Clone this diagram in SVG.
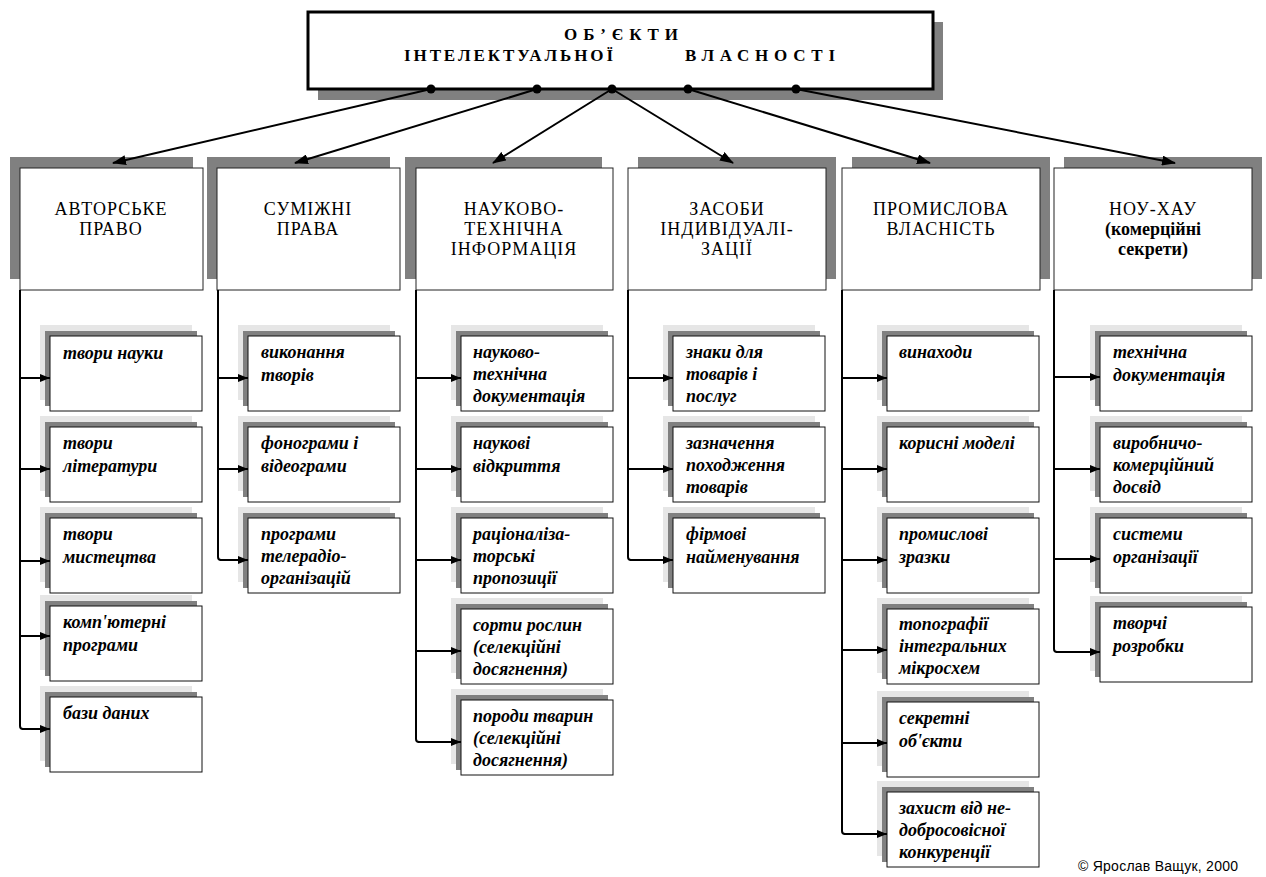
<svg xmlns="http://www.w3.org/2000/svg" width="1266" height="877" viewBox="0 0 1266 877">
<style>
.title{font-family:'Liberation Serif','Tinos','Times New Roman','DejaVu Serif',serif;font-weight:bold;font-size:17px;fill:#000}
.cat{font-family:'Liberation Serif','Tinos','Times New Roman','DejaVu Serif',serif;font-size:18px;letter-spacing:1px;fill:#000;text-anchor:middle}
.catb{font-weight:bold;letter-spacing:0}
.ch{font-family:'Liberation Serif','Tinos','Times New Roman','DejaVu Serif',serif;font-size:18px;font-weight:bold;font-style:italic;fill:#000}
.catbox{fill:#fff;stroke:#222;stroke-width:1}
.catsh{fill:#808080}
.chbox{fill:#fff;stroke:#111;stroke-width:1}
.sh1{fill:#e6e6e6}
.sh2{fill:#808080}
.ln{stroke:#000;stroke-width:2;fill:none}
.copy{font-family:'Liberation Sans',Arial,sans-serif;font-size:14px;fill:#000}
</style>
<defs>
<marker id="ah" markerUnits="userSpaceOnUse" markerWidth="14" markerHeight="10" refX="13" refY="5" orient="auto"><path d="M0,0 L14,5 L0,10 z" fill="#000"/></marker>
<marker id="as" markerUnits="userSpaceOnUse" markerWidth="10" markerHeight="8" refX="10" refY="4" orient="auto"><path d="M0,0 L10,4 L0,8 z" fill="#000"/></marker>
</defs>
<rect width="1266" height="877" fill="#fff"/>

<g id="title">
<rect x="318" y="22" width="625" height="78" fill="#808080"/>
<rect x="308" y="12" width="625" height="77" fill="#fff" stroke="#000" stroke-width="3"/>
<text class="title" x="564" y="40" textLength="114" lengthAdjust="spacing">ОБ’ЄКТИ</text>
<text class="title" x="404" y="61" textLength="209" lengthAdjust="spacing">ІНТЕЛЕКТУАЛЬНОЇ</text>
<text class="title" x="685" y="61" textLength="150" lengthAdjust="spacing">ВЛАСНОСТІ</text>
</g>

<!-- Categories -->
<g id="cat1">
<rect class="catsh" x="10" y="157" width="183" height="122"/>
<rect class="catbox" x="20" y="168" width="183" height="122"/>
<text class="cat" x="111" y="215">АВТОРСЬКЕ</text>
<text class="cat" x="111" y="235">ПРАВО</text>
</g>
<g id="cat2">
<rect class="catsh" x="207" y="157" width="183" height="122"/>
<rect class="catbox" x="217" y="168" width="183" height="122"/>
<text class="cat" x="308" y="215">СУМІЖНІ</text>
<text class="cat" x="308" y="235">ПРАВА</text>
</g>
<g id="cat3">
<rect class="catsh" x="405" y="157" width="197" height="122"/>
<rect class="catbox" x="416" y="168" width="197" height="122"/>
<text class="cat" x="514" y="215">НАУКОВО-</text>
<text class="cat" x="514" y="235">ТЕХНІЧНА</text>
<text class="cat" x="514" y="255">ІНФОРМАЦІЯ</text>
</g>
<g id="cat4">
<rect class="catsh" x="638" y="157" width="198" height="122"/>
<rect class="catbox" x="628" y="168" width="198" height="122"/>
<text class="cat" x="727" y="215">ЗАСОБИ</text>
<text class="cat" x="727" y="235">ІНДИВІДУАЛІ-</text>
<text class="cat" x="727" y="255">ЗАЦІЇ</text>
</g>
<g id="cat5">
<rect class="catsh" x="852" y="157" width="198" height="122"/>
<rect class="catbox" x="842" y="168" width="198" height="122"/>
<text class="cat" x="941" y="215">ПРОМИСЛОВА</text>
<text class="cat" x="941" y="235">ВЛАСНІСТЬ</text>
</g>
<g id="cat6">
<rect class="catsh" x="1064" y="157" width="198" height="122"/>
<rect class="catbox" x="1054" y="168" width="198" height="122"/>
<text class="cat" x="1153" y="215">НОУ-ХАУ</text>
<text class="cat catb" x="1153" y="235">(комерційні</text>
<text class="cat catb" x="1153" y="255">секрети)</text>
</g>

<!-- Column 1 children -->
<g id="c1a"><rect class="sh1" x="40" y="325" width="152" height="75"/><rect class="sh2" x="45" y="331" width="152" height="75"/><rect class="chbox" x="50" y="336" width="152" height="75"/>
<text class="ch" x="63" y="359">твори науки</text></g>
<g id="c1b"><rect class="sh1" x="40" y="416" width="152" height="75"/><rect class="sh2" x="45" y="422" width="152" height="75"/><rect class="chbox" x="50" y="427" width="152" height="75"/>
<text class="ch" x="63" y="449">твори</text><text class="ch" x="63" y="472">літератури</text></g>
<g id="c1c"><rect class="sh1" x="40" y="507" width="152" height="75"/><rect class="sh2" x="45" y="513" width="152" height="75"/><rect class="chbox" x="50" y="518" width="152" height="75"/>
<text class="ch" x="63" y="540">твори</text><text class="ch" x="63" y="563">мистецтва</text></g>
<g id="c1d"><rect class="sh1" x="40" y="595" width="152" height="75"/><rect class="sh2" x="45" y="601" width="152" height="75"/><rect class="chbox" x="50" y="606" width="152" height="75"/>
<text class="ch" x="63" y="628">комп'ютерні</text><text class="ch" x="63" y="651">програми</text></g>
<g id="c1e"><rect class="sh1" x="40" y="686" width="152" height="75"/><rect class="sh2" x="45" y="692" width="152" height="75"/><rect class="chbox" x="50" y="697" width="152" height="75"/>
<text class="ch" x="63" y="719">бази даних</text></g>

<!-- Column 2 children -->
<g id="c2a"><rect class="sh1" x="238" y="325" width="152" height="75"/><rect class="sh2" x="243" y="331" width="152" height="75"/><rect class="chbox" x="248" y="336" width="152" height="75"/>
<text class="ch" x="261" y="358">виконання</text><text class="ch" x="261" y="381">творів</text></g>
<g id="c2b"><rect class="sh1" x="238" y="416" width="152" height="75"/><rect class="sh2" x="243" y="422" width="152" height="75"/><rect class="chbox" x="248" y="427" width="152" height="75"/>
<text class="ch" x="261" y="449">фонограми і</text><text class="ch" x="261" y="472">відеограми</text></g>
<g id="c2c"><rect class="sh1" x="238" y="507" width="152" height="75"/><rect class="sh2" x="243" y="513" width="152" height="75"/><rect class="chbox" x="248" y="518" width="152" height="75"/>
<text class="ch" x="261" y="540">програми</text><text class="ch" x="261" y="562">телерадіо-</text><text class="ch" x="261" y="584">організацій</text></g>

<!-- Column 3 children -->
<g id="c3a"><rect class="sh1" x="451" y="325" width="152" height="75"/><rect class="sh2" x="456" y="331" width="152" height="75"/><rect class="chbox" x="461" y="336" width="152" height="75"/>
<text class="ch" x="473" y="358">науково-</text><text class="ch" x="473" y="380">технічна</text><text class="ch" x="473" y="402">документація</text></g>
<g id="c3b"><rect class="sh1" x="451" y="416" width="152" height="75"/><rect class="sh2" x="456" y="422" width="152" height="75"/><rect class="chbox" x="461" y="427" width="152" height="75"/>
<text class="ch" x="473" y="449">наукові</text><text class="ch" x="473" y="472">відкриття</text></g>
<g id="c3c"><rect class="sh1" x="451" y="507" width="152" height="75"/><rect class="sh2" x="456" y="513" width="152" height="75"/><rect class="chbox" x="461" y="518" width="152" height="75"/>
<text class="ch" x="473" y="540">раціоналіза-</text><text class="ch" x="473" y="562">торські</text><text class="ch" x="473" y="584">пропозиції</text></g>
<g id="c3d"><rect class="sh1" x="451" y="598" width="152" height="75"/><rect class="sh2" x="456" y="604" width="152" height="75"/><rect class="chbox" x="461" y="609" width="152" height="75"/>
<text class="ch" x="473" y="631">сорти рослин</text><text class="ch" x="473" y="653">(селекційні</text><text class="ch" x="473" y="675">досягнення)</text></g>
<g id="c3e"><rect class="sh1" x="451" y="689" width="152" height="75"/><rect class="sh2" x="456" y="695" width="152" height="75"/><rect class="chbox" x="461" y="700" width="152" height="75"/>
<text class="ch" x="473" y="722">породи тварин</text><text class="ch" x="473" y="744">(селекційні</text><text class="ch" x="473" y="766">досягнення)</text></g>

<!-- Column 4 children -->
<g id="c4a"><rect class="sh1" x="663" y="325" width="152" height="75"/><rect class="sh2" x="668" y="331" width="152" height="75"/><rect class="chbox" x="673" y="336" width="152" height="75"/>
<text class="ch" x="686" y="358">знаки для</text><text class="ch" x="686" y="380">товарів і</text><text class="ch" x="686" y="402">послуг</text></g>
<g id="c4b"><rect class="sh1" x="663" y="416" width="152" height="75"/><rect class="sh2" x="668" y="422" width="152" height="75"/><rect class="chbox" x="673" y="427" width="152" height="75"/>
<text class="ch" x="686" y="449">зазначення</text><text class="ch" x="686" y="471">походження</text><text class="ch" x="686" y="493">товарів</text></g>
<g id="c4c"><rect class="sh1" x="663" y="507" width="152" height="75"/><rect class="sh2" x="668" y="513" width="152" height="75"/><rect class="chbox" x="673" y="518" width="152" height="75"/>
<text class="ch" x="686" y="540">фірмові</text><text class="ch" x="686" y="563">найменування</text></g>

<!-- Column 5 children -->
<g id="c5a"><rect class="sh1" x="877" y="325" width="152" height="75"/><rect class="sh2" x="882" y="331" width="152" height="75"/><rect class="chbox" x="887" y="336" width="152" height="75"/>
<text class="ch" x="899" y="358">винаходи</text></g>
<g id="c5b"><rect class="sh1" x="877" y="416" width="152" height="75"/><rect class="sh2" x="882" y="422" width="152" height="75"/><rect class="chbox" x="887" y="427" width="152" height="75"/>
<text class="ch" x="899" y="449">корисні моделі</text></g>
<g id="c5c"><rect class="sh1" x="877" y="507" width="152" height="75"/><rect class="sh2" x="882" y="513" width="152" height="75"/><rect class="chbox" x="887" y="518" width="152" height="75"/>
<text class="ch" x="899" y="540">промислові</text><text class="ch" x="899" y="563">зразки</text></g>
<g id="c5d"><rect class="sh1" x="877" y="598" width="152" height="75"/><rect class="sh2" x="882" y="604" width="152" height="75"/><rect class="chbox" x="887" y="609" width="152" height="75"/>
<text class="ch" x="899" y="630">топографії</text><text class="ch" x="899" y="652">інтегральних</text><text class="ch" x="899" y="674">мікросхем</text></g>
<g id="c5e"><rect class="sh1" x="877" y="691" width="152" height="75"/><rect class="sh2" x="882" y="697" width="152" height="75"/><rect class="chbox" x="887" y="702" width="152" height="75"/>
<text class="ch" x="899" y="724">секретні</text><text class="ch" x="899" y="747">об'єкти</text></g>
<g id="c5f"><rect class="sh1" x="877" y="781" width="152" height="75"/><rect class="sh2" x="882" y="787" width="152" height="75"/><rect class="chbox" x="887" y="792" width="152" height="75"/>
<text class="ch" x="899" y="814">захист від не-</text><text class="ch" x="899" y="836">добросовісної</text><text class="ch" x="899" y="858">конкуренції</text></g>

<!-- Column 6 children -->
<g id="c6a"><rect class="sh1" x="1090" y="325" width="152" height="75"/><rect class="sh2" x="1095" y="331" width="152" height="75"/><rect class="chbox" x="1100" y="336" width="152" height="75"/>
<text class="ch" x="1113" y="358">технічна</text><text class="ch" x="1113" y="381">документація</text></g>
<g id="c6b"><rect class="sh1" x="1090" y="416" width="152" height="75"/><rect class="sh2" x="1095" y="422" width="152" height="75"/><rect class="chbox" x="1100" y="427" width="152" height="75"/>
<text class="ch" x="1113" y="449">виробничо-</text><text class="ch" x="1113" y="471">комерційний</text><text class="ch" x="1113" y="493">досвід</text></g>
<g id="c6c"><rect class="sh1" x="1090" y="507" width="152" height="75"/><rect class="sh2" x="1095" y="513" width="152" height="75"/><rect class="chbox" x="1100" y="518" width="152" height="75"/>
<text class="ch" x="1113" y="540">системи</text><text class="ch" x="1113" y="563">організації</text></g>
<g id="c6d"><rect class="sh1" x="1090" y="596" width="152" height="75"/><rect class="sh2" x="1095" y="602" width="152" height="75"/><rect class="chbox" x="1100" y="607" width="152" height="75"/>
<text class="ch" x="1113" y="629">творчі</text><text class="ch" x="1113" y="652">розробки</text></g>

<g id="connectors">
<line class="ln" x1="431" y1="89" x2="113" y2="163" marker-end="url(#ah)"/>
<line class="ln" x1="537" y1="89" x2="295" y2="163" marker-end="url(#ah)"/>
<line class="ln" x1="612" y1="89" x2="493" y2="163" marker-end="url(#ah)"/>
<line class="ln" x1="612" y1="89" x2="733" y2="163" marker-end="url(#ah)"/>
<line class="ln" x1="688" y1="89" x2="930" y2="163" marker-end="url(#ah)"/>
<line class="ln" x1="796" y1="89" x2="1175" y2="163" marker-end="url(#ah)"/>
<circle cx="431" cy="89" r="4.5"/>
<circle cx="537" cy="89" r="4.5"/>
<circle cx="612" cy="89" r="4.5"/>
<circle cx="688" cy="89" r="4.5"/>
<circle cx="796" cy="89" r="4.5"/>
<path class="ln" d="M20,290 V726 Q20,729 23,729"/>
<line class="ln" x1="20" y1="378" x2="50" y2="378" marker-end="url(#as)"/>
<line class="ln" x1="20" y1="469" x2="50" y2="469" marker-end="url(#as)"/>
<line class="ln" x1="20" y1="561" x2="50" y2="561" marker-end="url(#as)"/>
<line class="ln" x1="20" y1="636" x2="50" y2="636" marker-end="url(#as)"/>
<line class="ln" x1="22" y1="729" x2="50" y2="729" marker-end="url(#as)"/>
<path class="ln" d="M218,290 V557 Q218,560 221,560"/>
<line class="ln" x1="218" y1="378" x2="248" y2="378" marker-end="url(#as)"/>
<line class="ln" x1="218" y1="469" x2="248" y2="469" marker-end="url(#as)"/>
<line class="ln" x1="220" y1="560" x2="248" y2="560" marker-end="url(#as)"/>
<path class="ln" d="M416,290 V739 Q416,742 419,742"/>
<line class="ln" x1="416" y1="378" x2="461" y2="378" marker-end="url(#as)"/>
<line class="ln" x1="416" y1="469" x2="461" y2="469" marker-end="url(#as)"/>
<line class="ln" x1="416" y1="560" x2="461" y2="560" marker-end="url(#as)"/>
<line class="ln" x1="416" y1="651" x2="461" y2="651" marker-end="url(#as)"/>
<line class="ln" x1="418" y1="742" x2="461" y2="742" marker-end="url(#as)"/>
<path class="ln" d="M628,290 V557 Q628,560 631,560"/>
<line class="ln" x1="628" y1="378" x2="673" y2="378" marker-end="url(#as)"/>
<line class="ln" x1="628" y1="469" x2="673" y2="469" marker-end="url(#as)"/>
<line class="ln" x1="630" y1="560" x2="673" y2="560" marker-end="url(#as)"/>
<path class="ln" d="M842,290 V831 Q842,834 845,834"/>
<line class="ln" x1="842" y1="378" x2="887" y2="378" marker-end="url(#as)"/>
<line class="ln" x1="842" y1="469" x2="887" y2="469" marker-end="url(#as)"/>
<line class="ln" x1="842" y1="560" x2="887" y2="560" marker-end="url(#as)"/>
<line class="ln" x1="842" y1="650" x2="887" y2="650" marker-end="url(#as)"/>
<line class="ln" x1="842" y1="743" x2="887" y2="743" marker-end="url(#as)"/>
<line class="ln" x1="844" y1="834" x2="887" y2="834" marker-end="url(#as)"/>
<path class="ln" d="M1054,290 V649 Q1054,652 1057,652"/>
<line class="ln" x1="1054" y1="377" x2="1100" y2="377" marker-end="url(#as)"/>
<line class="ln" x1="1054" y1="469" x2="1100" y2="469" marker-end="url(#as)"/>
<line class="ln" x1="1054" y1="559" x2="1100" y2="559" marker-end="url(#as)"/>
<line class="ln" x1="1056" y1="652" x2="1100" y2="652" marker-end="url(#as)"/>
</g>

<text class="copy" x="1078" y="871" textLength="160" lengthAdjust="spacing">© Ярослав Ващук, 2000</text>
</svg>
